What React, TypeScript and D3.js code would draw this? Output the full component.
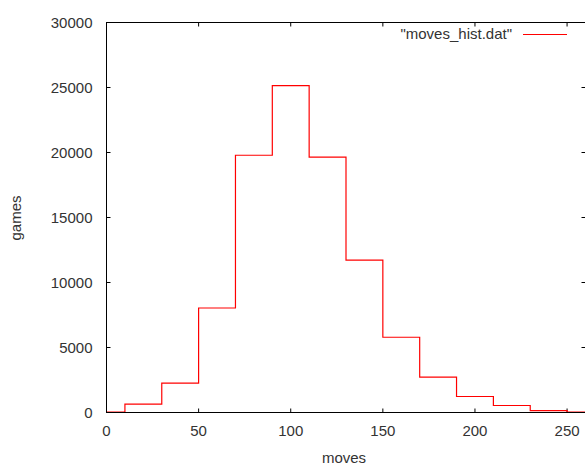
import React from "react";
import * as d3 from "d3";

// bin centres (moves) and game counts
const binCenters = [0, 20, 40, 60, 80, 100, 120, 140, 160, 180, 200, 220, 240, 260];
const games = [30, 645, 2260, 8040, 19790, 25140, 19640, 11725, 5790, 2720, 1230, 540, 150, 30];
const xTicks = [0, 50, 100, 150, 200, 250];
const yTicks = [0, 5000, 10000, 15000, 20000, 25000, 30000];
const seriesName = '"moves_hist.dat"';

const W = 585;
const H = 464;
const left = 106.5;
const right = 585.5;
const top = 22.5;
const bottom = 412.5;
const font = "'Liberation Sans', Arial, sans-serif";
const textColor = "#333";
const fs = 15;

const App = () => {
  const x = d3.scaleLinear().domain([0, 260]).range([left, right]);
  const y = d3.scaleLinear().domain([0, 30000]).range([bottom, top]);

  // histeps: each value spans half a bin either side of its centre
  const half = 10;
  const pts: [number, number][] = [];
  pts.push([binCenters[0] - half, 0]);
  binCenters.forEach((c, i) => pts.push([c - half, games[i]]));
  const last = binCenters.length - 1;
  pts.push([binCenters[last] + half, games[last]]);
  pts.push([binCenters[last] + half, 0]);

  const line = d3
    .line<[number, number]>()
    .x((d) => x(d[0]))
    .y((d) => y(d[1]))
    .curve(d3.curveStepAfter);

  const tickLen = 4;

  return (
    <svg
      width={W}
      height={H}
      style={{ position: "absolute", left: 0, top: 0, background: "#fff" }}
      fontFamily={font}
    >
      <defs>
        <clipPath id="plot">
          <rect x={left} y={top} width={right - left} height={bottom - top} />
        </clipPath>
      </defs>

      {/* y ticks, both sides */}
      {yTicks.map((t) => (
        <g key={"y" + t}>
          <line x1={left} x2={left + tickLen} y1={y(t)} y2={y(t)} stroke="#000" />
          <line x1={right - tickLen} x2={right} y1={y(t)} y2={y(t)} stroke="#000" />
          <text x={92.5} y={y(t)} dy="0.36em" textAnchor="end" fontSize={fs} fill={textColor}>
            {t}
          </text>
        </g>
      ))}

      {/* x ticks, both sides */}
      {xTicks.map((t) => (
        <g key={"x" + t}>
          <line x1={x(t)} x2={x(t)} y1={bottom} y2={bottom - tickLen} stroke="#000" />
          <line x1={x(t)} x2={x(t)} y1={top} y2={top + tickLen} stroke="#000" />
          <text x={x(t)} y={435.5} textAnchor="middle" fontSize={fs} fill={textColor}>
            {t}
          </text>
        </g>
      ))}

      {/* data */}
      <path
        d={line(pts) ?? ""}
        fill="none"
        stroke="#ff0000"
        strokeWidth={1.2}
        clipPath="url(#plot)"
      />

      {/* border */}
      <rect
        x={left}
        y={top}
        width={right - left}
        height={bottom - top}
        fill="none"
        stroke="#000"
      />

      {/* legend */}
      <text x={512} y={38.5} textAnchor="end" fontSize={fs} fill={textColor}>
        {seriesName}
      </text>
      <line x1={523} x2={567} y1={34.5} y2={34.5} stroke="#ff0000" strokeWidth={1.2} />

      {/* axis titles */}
      <text x={344} y={462.5} textAnchor="middle" fontSize={fs} fill={textColor}>
        moves
      </text>
      <text
        transform={`translate(21,218) rotate(-90)`}
        textAnchor="middle"
        fontSize={fs}
        fill={textColor}
      >
        games
      </text>
    </svg>
  );
};

export default App;
